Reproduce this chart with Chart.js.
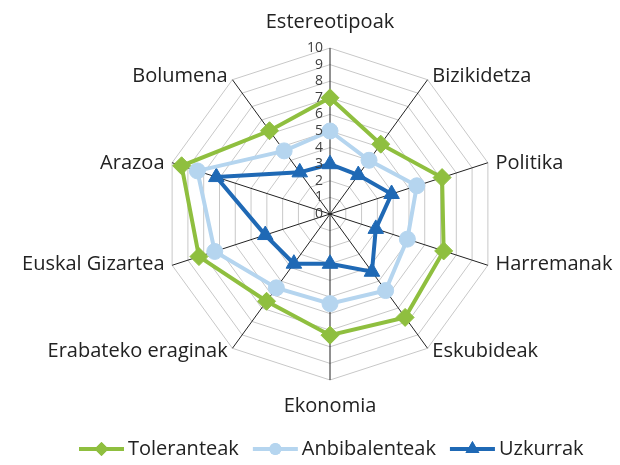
<!DOCTYPE html>
<html>
<head>
<meta charset="utf-8">
<script src="https://cdn.jsdelivr.net/npm/chart.js@4/dist/chart.umd.min.js"></script>
<style>
  html, body { margin: 0; padding: 0; background: #fff; }
  #wrap { width: 620px; height: 465px; }
</style>
</head>
<body>
<div id="wrap"><canvas id="radarChart" width="620" height="465"></canvas></div>
<script>
// categories (clockwise from top)
const categories = ['Estereotipoak', 'Bizikidetza', 'Politika', 'Harremanak', 'Eskubideak',
  'Ekonomia', 'Erabateko eraginak', 'Euskal Gizartea', 'Arazoa', 'Bolumena'];

const toleranteak   = [7.0, 5.2, 7.1, 7.2, 7.7, 7.3, 6.5, 8.3, 9.4, 6.2];
const anbibalenteak = [5.0, 4.0, 5.5, 4.9, 5.7, 5.4, 5.5, 7.3, 8.4, 4.7];
const uzkurrak      = [3.0, 2.9, 3.9, 2.9, 4.3, 3.0, 3.7, 4.1, 7.2, 3.1];

const tickValues = [0, 1, 2, 3, 4, 5, 6, 7, 8, 9, 10];

const FONT = '"Open Sans", sans-serif';
const TEXT = '#222';

const series = [
  { label: 'Toleranteak',   data: toleranteak,   color: '#8fbf3f', style: 'rectRot',  radius: 9, legendRadius: 7 },
  { label: 'Anbibalenteak', data: anbibalenteak, color: '#b5d5ef', style: 'circle',   radius: 8, legendRadius: 6 },
  { label: 'Uzkurrak',      data: uzkurrak,      color: '#1f69b5', style: 'triangle', radius: 9, legendRadius: 8 },
];

// tick labels left of the vertical axis (0 included), category labels
// around the web and the line+marker legend at the bottom
const labelsPlugin = {
  id: 'radarText',
  afterDatasetsDraw(chart) {
    const r = chart.scales.r;
    const ctx = chart.ctx;
    ctx.save();

    // ticks
    ctx.font = '14px ' + FONT;
    ctx.fillStyle = '#404040';
    ctx.textAlign = 'right';
    ctx.textBaseline = 'middle';
    tickValues.forEach(v => {
      const d = r.getDistanceFromCenterForValue(v);
      ctx.fillText(String(v), r.xCenter - 7, r.yCenter - d);
    });

    // category labels
    ctx.font = '20px ' + FONT;
    ctx.fillStyle = TEXT;
    categories.forEach((cat, i) => {
      const end = r.getPointPosition(i, r.drawingArea);
      const dx = end.x - r.xCenter;
      if (Math.abs(dx) < 1) {
        const p = r.getPointPosition(i, r.drawingArea + 26);
        ctx.textAlign = 'center';
        ctx.fillText(cat, p.x, p.y);
      } else {
        const p = r.getPointPosition(i, r.drawingArea + 8);
        ctx.textAlign = dx > 0 ? 'left' : 'right';
        const y = p.y - Math.sign(p.y - r.yCenter) * 3;
        ctx.fillText(cat, p.x, y);
      }
    });

    // legend
    const iconW = 45, gap = 4, itemGap = 14, ly = 449;
    let x = 79;
    ctx.textAlign = 'left';
    series.forEach(s => {
      ctx.strokeStyle = s.color;
      ctx.fillStyle = s.color;
      ctx.lineWidth = 4;
      ctx.beginPath(); ctx.moveTo(x, ly); ctx.lineTo(x + iconW, ly); ctx.stroke();
      Chart.helpers.drawPoint(ctx, { pointStyle: s.style, radius: s.legendRadius, rotation: 0, borderWidth: 0 }, x + iconW / 2, ly);
      ctx.fill();
      ctx.fillStyle = TEXT;
      ctx.fillText(s.label, x + iconW + gap, ly);
      x += iconW + gap + ctx.measureText(s.label).width + itemGap;
    });

    ctx.restore();
  }
};

new Chart(document.getElementById('radarChart'), {
  type: 'radar',
  data: {
    labels: categories,
    datasets: series.map(s => ({
      label: s.label,
      data: s.data,
      borderColor: s.color,
      backgroundColor: s.color,
      borderWidth: 4,
      fill: false,
      tension: 0,
      pointStyle: s.style,
      pointRadius: s.radius,
      pointBackgroundColor: s.color,
      pointBorderColor: s.color,
      pointBorderWidth: 1,
    }))
  },
  options: {
    responsive: false,
    animation: false,
    // places the web: centre (330, 214), radius 166
    layout: { padding: { top: 0, left: 164, right: 124, bottom: 37 } },
    plugins: {
      legend: { display: false },
      tooltip: { enabled: false }
    },
    scales: {
      r: {
        min: 0,
        max: 10,
        ticks: { stepSize: 1, display: false },
        grid: { color: '#c8c8c8', lineWidth: 1 },
        angleLines: { color: '#222', lineWidth: 1 },
        pointLabels: { display: false }
      }
    }
  },
  plugins: [labelsPlugin]
});
</script>
</body>
</html>
